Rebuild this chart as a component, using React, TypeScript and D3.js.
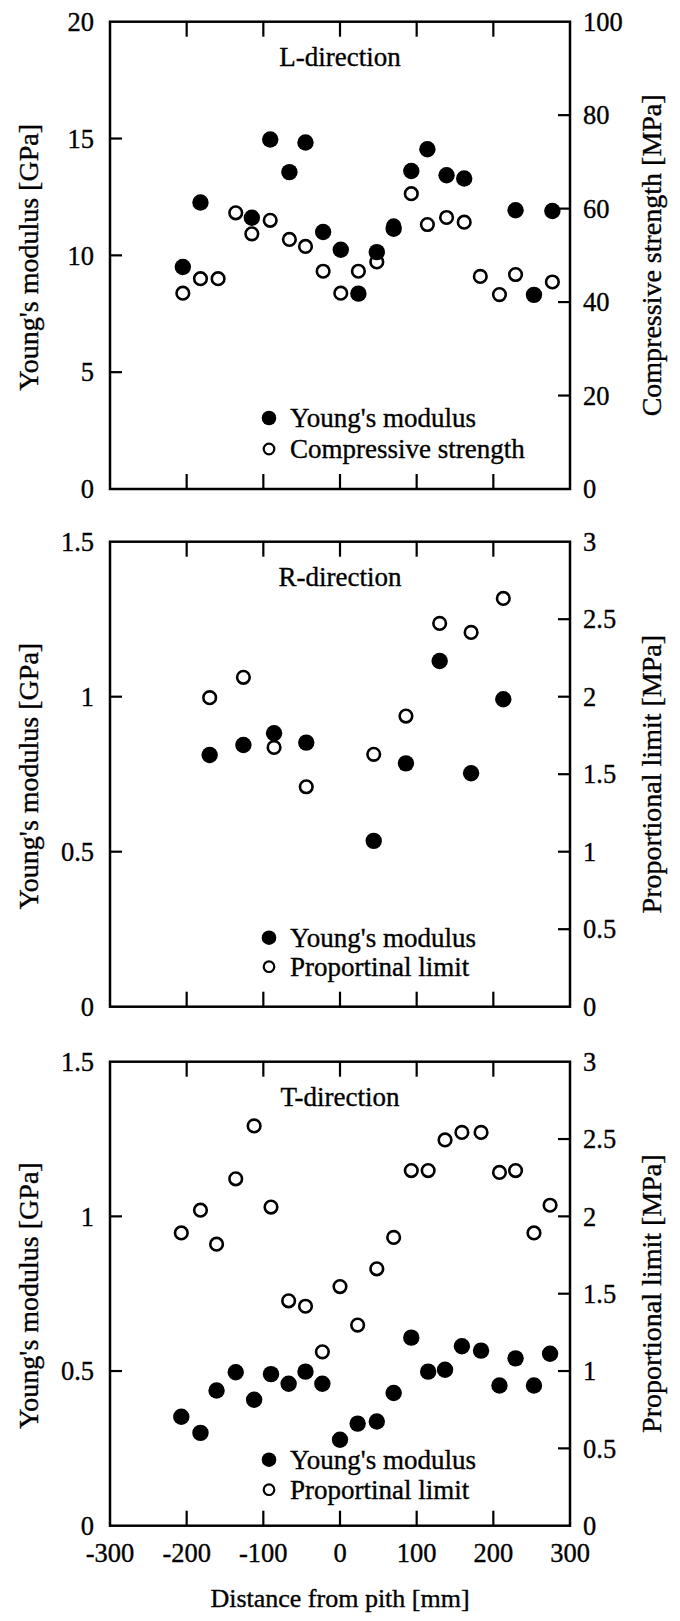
import React from "react";
import * as d3 from "d3";

// ---------- data ----------
const xTicks = [-300, -200, -100, 0, 100, 200, 300];

// L-direction
const lModX = [-205, -182, -115, -91, -66, -45, -22, 1, 24, 48, 70, 93, 114, 139, 162, 229, 253, 277];
const lModY = [9.5, 12.26, 11.61, 14.96, 13.56, 14.83, 11.0, 10.24, 8.36, 10.14, 11.14, 13.61, 14.54, 13.43, 13.29, 11.93, 8.31, 11.9];
const lStrX = [-205, -182, -159, -136, -115, -91, -66, -45, -22, 1, 24, 48, 70, 93, 114, 139, 162, 183, 208, 229, 277];
const lStrY = [41.9, 45.0, 45.0, 59.1, 54.6, 57.5, 53.4, 51.9, 46.6, 41.9, 46.6, 48.6, 56.3, 63.2, 56.6, 58.1, 57.1, 45.5, 41.6, 45.9, 44.3];
const lLeftTicks = [0, 5, 10, 15, 20];
const lRightTicks = [0, 20, 40, 60, 80, 100];

// R-direction
const rX = [-170, -126, -86, -44, 44, 86, 130, 171, 213];
const rModY = [0.812, 0.844, 0.882, 0.852, 0.535, 0.785, 1.115, 0.753, 0.992];
const rPropY = [1.994, 2.125, 1.673, 1.419, 1.628, 1.875, 2.473, 2.415, 2.634];

// T-direction
const tX = [-207, -182, -161, -136, -112, -90, -67, -45, -23, 0, 23, 48, 70, 93, 115, 137, 159, 184, 208, 229, 253, 274];
const tModY = [0.352, 0.3, 0.437, 0.496, 0.407, 0.49, 0.459, 0.498, 0.459, 0.278, 0.33, 0.337, 0.429, 0.608, 0.498, 0.504, 0.58, 0.566, 0.453, 0.541, 0.453, 0.556];
const tPropY = [1.893, 2.04, 1.82, 2.243, 2.585, 2.06, 1.454, 1.419, 1.124, 1.546, 1.297, 1.661, 1.864, 2.296, 2.296, 2.494, 2.543, 2.543, 2.284, 2.296, 1.893, 2.072];

const gpaTicks = [0, 0.5, 1, 1.5];
const mpaTicks = [0, 0.5, 1, 1.5, 2, 2.5, 3];

const FONT = "'Liberation Serif', 'Times New Roman', serif";
const TXT = { fontFamily: FONT, fill: "#000", stroke: "#000", strokeWidth: 0.35 };

const panels = [
  {
    title: "L-direction",
    top: 21.7, bottom: 489,
    leftMax: 20, rightMax: 100,
    leftTicks: lLeftTicks, rightTicks: lRightTicks,
    leftTitle: "Young's modulus [GPa]", rightTitle: "Compressive strength [MPa]",
    modX: lModX, modY: lModY, secX: lStrX, secY: lStrY,
    legend2: "Compressive strength",
    legendOff: [71, 40],
    openFirst: true,
    showXLabels: false,
  },
  {
    title: "R-direction",
    top: 541.7, bottom: 1006.7,
    leftMax: 1.5, rightMax: 3,
    leftTicks: gpaTicks, rightTicks: mpaTicks,
    leftTitle: "Young's modulus [GPa]", rightTitle: "Proportional limit [MPa]",
    modX: rX, modY: rModY, secX: rX, secY: rPropY,
    legend2: "Proportinal limit",
    legendOff: [69, 40],
    openFirst: false,
    showXLabels: false,
  },
  {
    title: "T-direction",
    top: 1061.7, bottom: 1525.7,
    leftMax: 1.5, rightMax: 3,
    leftTicks: gpaTicks, rightTicks: mpaTicks,
    leftTitle: "Young's modulus [GPa]", rightTitle: "Proportional limit [MPa]",
    modX: tX, modY: tModY, secX: tX, secY: tPropY,
    legend2: "Proportinal limit",
    legendOff: [66, 36],
    openFirst: false,
    showXLabels: true,
  },
];

const X0 = 110;
const X1 = 570;

function Panel({ p }: { p: any }) {
  const x = d3.scaleLinear().domain([-300, 300]).range([X0, X1]);
  const yL = d3.scaleLinear().domain([0, p.leftMax]).range([p.bottom, p.top]);
  const yR = d3.scaleLinear().domain([0, p.rightMax]).range([p.bottom, p.top]);
  const cy = (p.top + p.bottom) / 2;
  const fmt = (v: number) => String(v);

  const filled = p.modX.map((xv: number, i: number) => (
    <circle key={"f" + i} cx={x(xv)} cy={yL(p.modY[i])} r={8.2} fill="#000" />
  ));
  const open = p.secX.map((xv: number, i: number) => (
    <circle key={"o" + i} cx={x(xv)} cy={yR(p.secY[i])} r={6.3} fill="#fff" stroke="#000" strokeWidth={2.6} />
  ));

  return (
    <g>
      {xTicks.slice(1, -1).map((t) => (
        <g key={"xt" + t}>
          <line x1={x(t)} x2={x(t)} y1={p.top} y2={p.top + 15} stroke="#000" strokeWidth={2.2} />
          <line x1={x(t)} x2={x(t)} y1={p.bottom} y2={p.bottom - 15} stroke="#000" strokeWidth={2.2} />
        </g>
      ))}
      {p.leftTicks.slice(1, -1).map((t: number) => (
        <line key={"lt" + t} x1={X0} x2={X0 + 12} y1={yL(t)} y2={yL(t)} stroke="#000" strokeWidth={2.2} />
      ))}
      {p.rightTicks.slice(1, -1).map((t: number) => (
        <line key={"rt" + t} x1={X1} x2={X1 - 12} y1={yR(t)} y2={yR(t)} stroke="#000" strokeWidth={2.2} />
      ))}
      <rect x={X0} y={p.top} width={X1 - X0} height={p.bottom - p.top} fill="none" stroke="#000" strokeWidth={2.5} />
      {p.leftTicks.map((t: number) => (
        <text key={"ll" + t} x={94} y={yL(t)} dy="0.35em" textAnchor="end" fontSize={26.5} {...TXT}>{fmt(t)}</text>
      ))}
      {p.rightTicks.map((t: number) => (
        <text key={"rl" + t} x={583} y={yR(t)} dy="0.35em" textAnchor="start" fontSize={26.5} {...TXT}>{fmt(t)}</text>
      ))}
      {p.showXLabels && xTicks.map((t) => (
        <text key={"xl" + t} x={x(t)} y={p.bottom + 36} textAnchor="middle" fontSize={26.5} {...TXT}>{fmt(t)}</text>
      ))}
      <text transform={`translate(38,${cy + 2}) rotate(-90)`} textAnchor="middle" fontSize={28} {...TXT}>{p.leftTitle}</text>
      <text transform={`translate(661,${cy}) rotate(-90)`} textAnchor="middle" fontSize={28} {...TXT}>{p.rightTitle}</text>
      <text x={x(0)} y={p.top + 44} textAnchor="middle" fontSize={27} {...TXT}>{p.title}</text>
      {p.openFirst ? <g>{open}{filled}</g> : <g>{filled}{open}</g>}
      <circle cx={269} cy={p.bottom - p.legendOff[0]} r={7.3} fill="#000" />
      <text x={290} y={p.bottom - p.legendOff[0]} dy="0.35em" fontSize={27} {...TXT}>Young's modulus</text>
      <circle cx={269} cy={p.bottom - p.legendOff[1]} r={5.3} fill="#fff" stroke="#000" strokeWidth={2.2} />
      <text x={290} y={p.bottom - p.legendOff[1]} dy="0.35em" fontSize={27} {...TXT}>{p.legend2}</text>
    </g>
  );
}

export default function App() {
  return (
    <svg
      width={680}
      height={1621}
      viewBox="0 0 680 1621"
      style={{ position: "absolute", left: 0, top: 0, background: "#fff" }}
    >
      <rect x={0} y={0} width={680} height={1621} fill="#fff" />
      {panels.map((p, i) => (
        <Panel key={i} p={p} />
      ))}
      <text x={340} y={1607} textAnchor="middle" fontSize={26} {...TXT}>Distance from pith [mm]</text>
    </svg>
  );
}
